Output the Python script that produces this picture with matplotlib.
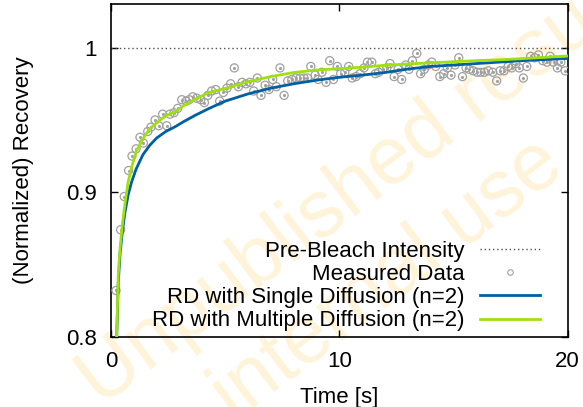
import matplotlib
matplotlib.use("Agg")
import matplotlib.pyplot as plt
from matplotlib.lines import Line2D

plt.rcParams["font.family"] = ["Liberation Sans", "DejaVu Sans"]

# Measured FRAP recovery (time in s, normalized intensity)
time_s = [
    0.22, 0.42, 0.58, 0.77, 0.92, 1.10, 1.27, 1.42, 1.61, 1.75,
    1.93, 2.09, 2.26, 2.44, 2.58, 2.76, 2.92, 3.10, 3.29, 3.42,
    3.58, 3.75, 3.93, 4.09, 4.24, 4.41, 4.59, 4.76, 4.92, 5.08,
    5.24, 5.40, 5.58, 5.74, 5.91, 6.08, 6.25, 6.41, 6.57, 6.75,
    6.92, 7.08, 7.24, 7.40, 7.58, 7.74, 7.92, 8.10, 8.28, 8.45,
    8.60, 8.75, 8.94, 9.07, 9.24, 9.42, 9.58, 9.74, 9.91, 10.06,
    10.24, 10.41, 10.56, 10.73, 10.91, 11.08, 11.23, 11.42, 11.58, 11.72,
    11.90, 12.08, 12.22, 12.40, 12.57, 12.73, 12.91, 13.05, 13.20, 13.39,
    13.56, 13.72, 13.90, 14.05, 14.22, 14.40, 14.57, 14.73, 14.89, 15.07,
    15.23, 15.39, 15.55, 15.69, 15.86, 16.03, 16.19, 16.35, 16.53, 16.72,
    16.89, 17.04, 17.21, 17.39, 17.55, 17.73, 17.88, 18.06, 18.21, 18.38,
    18.55, 18.72, 18.91, 19.09, 19.23, 19.38, 19.55, 19.70, 19.89,
]
recovery = [
    0.832, 0.874, 0.897, 0.915, 0.925, 0.930, 0.938, 0.934, 0.942, 0.945,
    0.950, 0.946, 0.954, 0.946, 0.954, 0.955, 0.958, 0.964, 0.963, 0.964,
    0.966, 0.965, 0.964, 0.962, 0.967, 0.970, 0.971, 0.963, 0.969, 0.972,
    0.975, 0.986, 0.973, 0.976, 0.975, 0.976, 0.970, 0.979, 0.967, 0.974,
    0.971, 0.978, 0.973, 0.986, 0.967, 0.977, 0.978, 0.979, 0.979, 0.979,
    0.979, 0.987, 0.981, 0.978, 0.983, 0.976, 0.991, 0.978, 0.987, 0.982,
    0.983, 0.987, 0.979, 0.980, 0.982, 0.986, 0.990, 0.990, 0.982, 0.983,
    0.985, 0.986, 0.989, 0.980, 0.985, 0.978, 0.988, 0.985, 0.991, 0.996,
    0.982, 0.985, 0.988, 0.990, 0.987, 0.980, 0.982, 0.986, 0.981, 0.988,
    0.993, 0.980, 0.986, 0.985, 0.984, 0.983, 0.983, 0.983, 0.984, 0.983,
    0.977, 0.984, 0.984, 0.987, 0.986, 0.989, 0.986, 0.979, 0.987, 0.994,
    0.993, 0.995, 0.991, 0.990, 0.994, 0.990, 0.986, 0.990, 0.984,
]

fit_t = [0.20, 0.25, 0.32, 0.40, 0.50, 0.61, 0.75, 0.90, 1.10, 1.40,
         1.70, 2.0, 2.4, 2.8, 3.2, 3.7, 4.3, 5.0, 6.0, 7.0,
         8.0, 9.0, 10.0, 11.0, 12.0, 13.0, 14.0, 15.0, 16.0, 17.0,
         18.0, 19.0, 20.0]
fit_single = [0.770, 0.800, 0.838, 0.858, 0.873, 0.886, 0.898, 0.907, 0.916, 0.926,
              0.9325, 0.9375, 0.942, 0.9452, 0.949, 0.9533, 0.958, 0.963, 0.968, 0.972,
              0.975, 0.9775, 0.9795, 0.981, 0.9828, 0.9852, 0.987, 0.988, 0.989, 0.990,
              0.991, 0.9918, 0.9925]
fit_multiple = [0.772, 0.802, 0.844, 0.862, 0.878, 0.892, 0.907, 0.917, 0.928, 0.937,
                0.944, 0.948, 0.953, 0.9555, 0.960, 0.9645, 0.969, 0.9718, 0.9765, 0.980,
                0.9828, 0.9845, 0.9855, 0.9865, 0.9878, 0.9887, 0.9895, 0.9903, 0.991, 0.9916,
                0.9924, 0.9933, 0.9943]

pre_bleach = 1.0
x_ticks = [0, 10, 20]
y_ticks = [0.8, 0.9, 1.0]
y_tick_labels = ["0.8", "0.9", "1"]

blue = "#0060a0"
green = "#a0e010"
gray = "#a0a0a0"

fig = plt.figure(figsize=(5.83, 4.07), dpi=100)

# watermark sits behind the (transparent) axes
wm = "#fff4da"
fig.text(0.19, -0.035, "Unpublished results", rotation=37, fontsize=58, color=wm,
         rotation_mode="anchor", ha="left", va="bottom", zorder=-1)
fig.text(0.42, -0.07, "internal use", rotation=37, fontsize=58, color=wm,
         rotation_mode="anchor", ha="left", va="bottom", zorder=-1)

ax = fig.add_axes([0.1904, 0.1727, 0.7833, 0.8167])
ax.patch.set_alpha(0)

ax.axhline(pre_bleach, color="#505050", linestyle=(0, (1, 2)), linewidth=1.0, zorder=2)
ax.scatter(time_s, recovery, s=34, facecolors="none", edgecolors=gray, linewidths=0.9, zorder=3)
ax.scatter(time_s, recovery, s=1.5, color=gray, zorder=3)
ax.plot(fit_t, fit_single, color=blue, linewidth=2.0, zorder=4)
ax.plot(fit_t, fit_multiple, color=green, linewidth=2.0, zorder=5)

ax.set_xlim(0, 20)
ax.set_ylim(0.8, 1.03)
ax.set_xticks(x_ticks)
ax.set_yticks(y_ticks)
ax.set_yticklabels(y_tick_labels)
ax.tick_params(direction="in", length=5, width=1, top=True, right=True, labelsize=16, pad=10)
for side in ax.spines.values():
    side.set_linewidth(1.2)

ax.set_xlabel("Time [s]", fontsize=16, labelpad=11)
ax.set_ylabel("(Normalized) Recovery", fontsize=16, labelpad=23)

# gnuplot-style key: text right-aligned, sample on the right
handles = [
    Line2D([], [], color="#505050", linestyle=(0, (1, 2)), linewidth=1.0),
    Line2D([], [], color=gray, marker="o", markersize=4, markerfacecolor="none",
           markeredgewidth=0.8, linestyle="none"),
    Line2D([], [], color=blue, linewidth=2.0),
    Line2D([], [], color=green, linewidth=2.0),
]
labels = ["Pre-Bleach Intensity", "Measured Data",
          "RD with Single Diffusion (n=2)", "RD with Multiple Diffusion (n=2)"]
leg = ax.legend(handles, labels, loc="lower right", bbox_to_anchor=(0.94, 0.016),
                frameon=False, fontsize=16, markerfirst=False, handlelength=2.7,
                handletextpad=0.7, labelspacing=0.1, borderaxespad=0.0, borderpad=0.0)
for txt in leg.get_texts():
    txt.set_ha("right")

fig.savefig("out.png", dpi=100)
